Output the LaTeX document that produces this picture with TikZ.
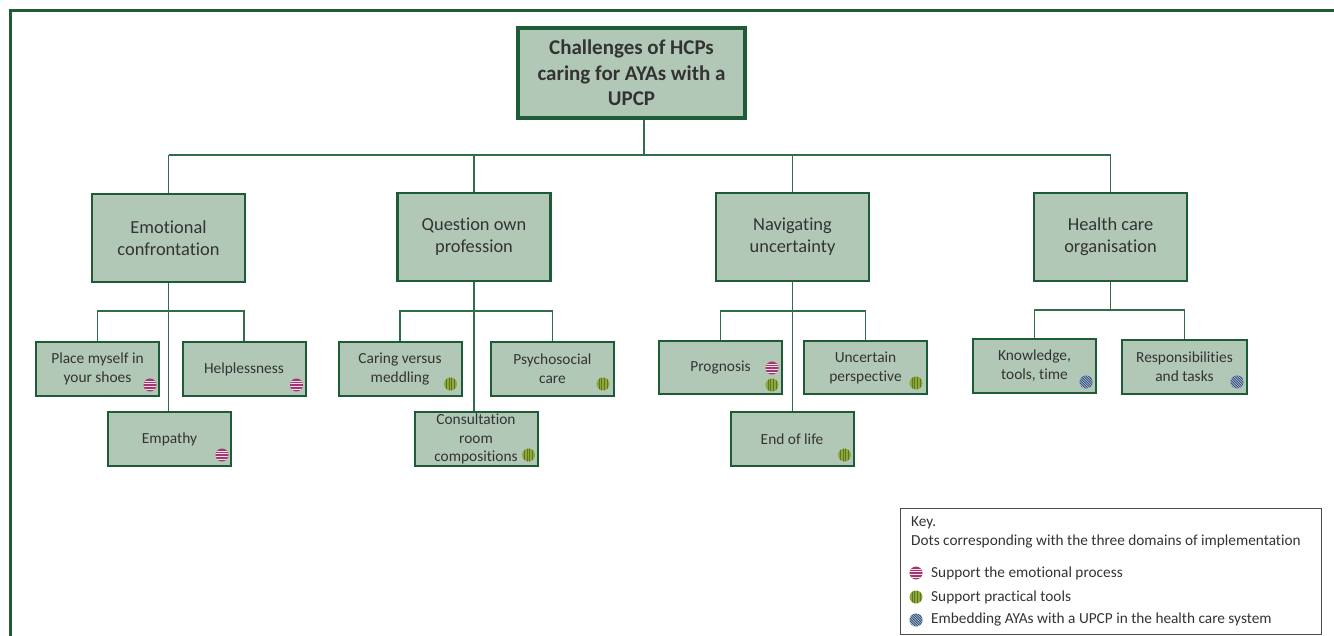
\documentclass[tikz,border=0pt]{standalone}
\usepackage{fontspec}
\setmainfont{Carlito}[Ligatures=NoCommon]
\usetikzlibrary{calc}
\definecolor{bord}{HTML}{1E5C38}
\definecolor{conn}{HTML}{2F6E48}
\definecolor{boxfill}{HTML}{B2C8B7}
\definecolor{txt}{HTML}{333333}
\definecolor{pinkc}{HTML}{A3356F}
\definecolor{greenc}{HTML}{8FA83E}
\definecolor{greend}{HTML}{5C761E}
\definecolor{bluec}{HTML}{2C4C7C}
\tikzset{
  topbox/.style={draw=bord, line width=3.5pt, fill=boxfill, inner sep=0pt, align=center,
    text=txt, font=\bfseries\fontsize{21}{25.5}\selectfont},
  lvone/.style={draw=bord, line width=2.5pt, fill=boxfill, inner sep=0pt, align=center,
    minimum width=153pt, minimum height=88pt, text=txt, font=\fontsize{18.4}{22}\selectfont},
  lvtwo/.style={draw=bord, line width=2pt, fill=boxfill, inner sep=0pt, align=center,
    minimum width=123pt, minimum height=54pt, text=txt, font=\fontsize{15.4}{19}\selectfont},
  conline/.style={draw=conn, line width=1.3pt},
  keytext/.style={anchor=west, inner sep=0pt, text=txt, font=\fontsize{15.3}{18}\selectfont},
  pinkdot/.pic={
    \fill[pinkc] (0,0) circle (6.5);
    \begin{scope}\clip (0,0) circle (6.5);
      \foreach \yy in {-3.9,-1.3,1.3,3.9} \draw[white!85!pinkc, line width=0.7pt] (-7,\yy) -- (7,\yy);
    \end{scope}},
  greendot/.pic={
    \fill[greenc] (0,0) circle (6.5);
    \begin{scope}\clip (0,0) circle (6.5);
      \foreach \xx in {-3.9,-1.3,1.3,3.9} \draw[greend, line width=0.8pt] (\xx,-7) -- (\xx,7);
    \end{scope}},
  bluedot/.pic={
    \fill[bluec] (0,0) circle (6.5);
    \begin{scope}\clip (0,0) circle (6.5);
      \foreach \dd in {-8,-5.5,...,8} \draw[white!75!bluec, line width=0.6pt] (\dd-7,-7) -- (\dd+7,7);
    \end{scope}}
}
\begin{document}
\begin{tikzpicture}[x=1pt,y=-1pt]
\useasboundingbox (0,0) rectangle (1334,636);
% frame
\draw[bord, line width=3pt] (1334,11) -- (10,11) -- (10,636);

% top
\node[topbox, minimum width=227pt, minimum height=90pt] (top) at (631.5,73) {Challenges of HCPs\\caring for AYAs with a\\UPCP};

% level one
\node[lvone] (emo) at (168.5,238) {Emotional\\confrontation};
\node[lvone] (que) at (474,237) {Question own\\profession};
\node[lvone] (nav) at (792.5,237) {Navigating\\uncertainty};
\node[lvone] (hco) at (1110.5,237) {Health care\\organisation};

% level two
\node[lvtwo] (pms) at (97.5,369) {Place myself in\\your shoes};
\node[lvtwo] (hel) at (244,369) {Helplessness};
\node[lvtwo] (emp) at (169.5,439) {Empathy};
\node[lvtwo] (car) at (400,369) {Caring versus\\meddling};
\node[lvtwo] (psy) at (552.5,369) {Psychosocial\\care};
\node[lvtwo, font=\fontsize{15.4}{18.5}\selectfont] (con) at (476,439) {Consultation\\room\\compositions};
\node[lvtwo, minimum height=53pt] (pro) at (720.5,367.5) {Prognosis};
\node[lvtwo, minimum height=53pt] (unc) at (865.5,367.5) {Uncertain\\perspective};
\node[lvtwo] (eol) at (792,439) {End of life};
\node[lvtwo] (kno) at (1034.5,366) {Knowledge,\\tools, time};
\node[lvtwo, minimum width=125pt] (res) at (1184.5,367) {Responsibilities\\and tasks};

% connectors level 0-1
\coordinate (j0) at (644,155);
\draw[conline] (top.south -| j0) -- (j0);
\draw[conline] (emo.north |- j0) -- (hco.north |- j0);
\foreach \n in {emo,que,nav,hco} \draw[conline] (\n.north) -- (\n.north |- j0);

% connectors level 1-2
\coordinate (je) at (0,311);
\draw[conline] (emo.south) -- (emp.north -| emo.south);
\draw[conline] (pms.north) -- (pms.north |- je) -- (hel.north |- je) -- (hel.north);
\draw[conline] (que.south) -- (con.north -| que.south);
\draw[conline] (car.north) -- (car.north |- je) -- (psy.north |- je) -- (psy.north);
\draw[conline] (nav.south) -- (eol.north -| nav.south);
\draw[conline] (pro.north) -- (pro.north |- je) -- (unc.north |- je) -- (unc.north);
\coordinate (jh) at (0,310);
\draw[conline] (hco.south) -- (hco.south |- jh);
\draw[conline] (kno.north) -- (kno.north |- jh) -- (res.north |- jh) -- (res.north);

% dots
\pic at ($(pms.south east)+(-10,-12)$) {pinkdot};
\pic at ($(hel.south east)+(-10,-12)$) {pinkdot};
\pic at ($(emp.south east)+(-10,-12)$) {pinkdot};
\pic at ($(car.south east)+(-12,-13)$) {greendot};
\pic at ($(psy.south east)+(-12,-13)$) {greendot};
\pic at ($(con.south east)+(-10,-12)$) {greendot};
\pic at ($(pro.south east)+(-11,-27)$) {pinkdot};
\pic at ($(pro.south east)+(-11,-10)$) {greendot};
\pic at ($(unc.south east)+(-12,-12)$) {greendot};
\pic at ($(eol.south east)+(-10,-12)$) {greendot};
\pic at ($(kno.south east)+(-11,-12)$) {bluedot};
\pic at ($(res.south east)+(-11,-13)$) {bluedot};

% key
\node[draw=black!70, line width=0.8pt, minimum width=421pt, minimum height=126pt, inner sep=0pt] (key) at (1110.5,571) {};
\node[keytext] (k1) at (911,523) {Key.};
\node[keytext] (k2) at (911,542) {Dots corresponding with the three domains of implementation};
\node[keytext] (k3) at (931,573) {Support the emotional process};
\node[keytext] (k4) at (931,597) {Support practical tools};
\node[keytext] (k5) at (931,620) {Embedding AYAs with a UPCP in the health care system};
\pic at ($(k3.west)+(-15,0)$) {pinkdot};
\pic at ($(k4.west)+(-15,0)$) {greendot};
\pic at ($(k5.west)+(-15,0)$) {bluedot};
\end{tikzpicture}
\end{document}
